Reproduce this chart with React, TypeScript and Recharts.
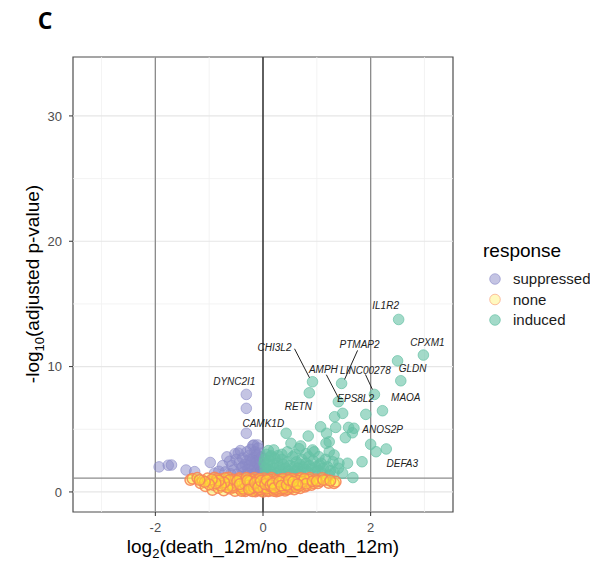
import React from 'react';
import { ScatterChart, Scatter, XAxis, YAxis, ReferenceLine, ReferenceArea } from 'recharts';

const X_DOMAIN: [number, number] = [-3.53, 3.53];
const Y_DOMAIN: [number, number] = [-1.6, 34.7];
const X_TICKS = [-2, 0, 2];
const Y_TICKS = [0, 10, 20, 30];
const X_MINOR = [-3, -1, 1, 3];
const Y_MINOR = [5, 15, 25];
const FC_CUTOFFS = [-2, 2];
const P_CUTOFF = 1.1;

const RESPONSES = ['suppressed', 'none', 'induced'];

// labelled genes: [gene, log2FC, -log10 padj, response]
const LABELED: [string, number, number, string][] = [
    ['IL1R2', 2.52, 13.76, 'induced'],
    ['CPXM1', 2.98, 10.92, 'induced'],
    ['GLDN', 2.5, 10.46, 'induced'],
    ['MAOA', 2.56, 8.87, 'induced'],
    ['LINC00278', 2.07, 7.78, 'induced'],
    ['PTMAP2', 1.46, 8.66, 'induced'],
    ['CHI3L2', 0.92, 8.79, 'induced'],
    ['RETN', 0.86, 7.91, 'induced'],
    ['AMPH', 1.4, 7.2, 'induced'],
    ['EPS8L2', 1.48, 6.27, 'induced'],
    ['ANOS2P', 2.0, 3.8, 'induced'],
    ['DEFA3', 2.29, 3.43, 'induced'],
    ['DYNC2I1', -0.31, 7.78, 'suppressed'],
    ['CAMK1D', -0.31, 4.68, 'suppressed'],
];

const SUPPRESSED: [number, number][] = [
    [-1.93, 2.0], [-1.76, 2.13], [-1.7, 2.15], [-1.43, 1.75], [-1.27, 1.62], [-0.98, 2.35],
    [-0.9, 1.5], [-0.82, 1.65], [-0.75, 2.1], [-0.7, 1.6], [-0.67, 2.8], [-0.62, 2.45],
    [-0.6, 1.45], [-0.58, 2.1], [-0.55, 1.75], [-0.52, 3.05], [-0.5, 2.6], [-0.48, 1.4],
    [-0.46, 3.1], [-0.44, 2.3], [-0.42, 3.3], [-0.4, 1.9], [-0.38, 2.7], [-0.35, 1.6],
    [-0.33, 2.2], [-0.31, 6.67], [-0.3, 3.2], [-0.3, 2.5], [-0.28, 1.8], [-0.26, 2.9],
    [-0.25, 2.1], [-0.23, 3.4], [-0.22, 2.4], [-0.2, 1.7], [-0.19, 3.7], [-0.18, 2.7],
    [-0.17, 3.75], [-0.16, 2.0], [-0.15, 3.2], [-0.14, 2.5], [-0.13, 1.6], [-0.12, 3.0],
    [-0.11, 2.9], [-0.1, 3.75], [-0.1, 2.2], [-0.09, 3.5], [-0.08, 1.9], [-0.07, 2.6],
    [-0.06, 3.1], [-0.05, 2.3], [-0.04, 1.7], [-0.03, 2.8], [-0.02, 2.0], [-0.02, 1.5],
    [-0.08, 1.4], [-0.18, 1.45], [-0.28, 1.5], [-0.38, 2.0], [-0.24, 2.6], [-0.12, 2.35],
];

const INDUCED: [number, number][] = [
    [2.22, 6.48], [1.91, 6.19], [1.33, 6.0], [1.07, 5.2], [1.35, 5.15], [1.59, 5.15],
    [1.69, 5.08], [1.66, 4.72], [1.53, 4.33], [1.18, 4.68], [0.84, 4.46], [0.43, 4.68],
    [0.52, 3.88], [0.7, 3.67], [0.92, 3.35], [1.17, 3.88], [1.23, 3.21], [1.32, 2.95],
    [2.1, 3.21], [1.84, 2.41], [1.57, 2.29], [1.41, 2.29], [1.4, 1.89], [1.32, 1.54],
    [1.48, 1.49], [1.67, 1.15], [1.05, 2.15], [0.97, 1.62], [0.2, 3.35], [0.14, 2.81],
    [1.04, 2.81], [1.23, 4.0], [0.95, 3.2], [0.67, 3.45], [0.8, 3.05], [1.1, 1.49],
    [1.23, 1.35], [0.05, 1.5], [0.08, 2.1], [0.1, 1.8], [0.12, 2.5], [0.15, 1.6],
    [0.18, 2.2], [0.2, 1.9], [0.22, 2.7], [0.25, 1.5], [0.27, 2.3], [0.3, 2.0],
    [0.32, 1.7], [0.35, 2.6], [0.38, 2.2], [0.4, 1.6], [0.42, 1.9], [0.45, 2.4],
    [0.48, 1.7], [0.5, 2.1], [0.53, 1.5], [0.55, 2.8], [0.58, 2.0], [0.6, 1.7],
    [0.62, 2.4], [0.65, 1.9], [0.68, 2.2], [0.7, 1.6], [0.72, 2.6], [0.75, 2.0],
    [0.78, 1.8], [0.8, 2.3], [0.83, 1.6], [0.86, 2.1], [0.9, 1.9], [0.93, 2.5],
    [0.98, 2.0], [1.02, 1.7], [1.08, 2.3], [1.12, 1.9], [1.16, 2.6], [1.2, 2.0],
    [1.25, 1.7], [1.3, 2.4], [0.03, 2.6], [0.06, 3.0], [0.1, 3.3], [0.35, 3.0],
    [0.45, 3.2], [0.6, 3.0], [0.85, 2.8], [0.28, 2.9], [0.15, 2.9], [0.04, 1.9],
    [0.02, 2.3], [0.07, 1.4], [0.17, 1.4], [0.33, 1.4], [0.5, 1.35], [0.66, 1.4],
];

const NONE: [number, number][] = [
    [-1.35, 0.96], [-1.31, 1.05], [-1.22, 1.12], [-1.16, 0.69], [-1.12, 0.9], [-1.07, 0.45],
    [-1.03, 1.08], [-0.98, 0.78], [-0.94, 0.16], [-0.92, 0.55], [-0.9, 1.15], [-0.86, 0.95],
    [-0.83, 0.32], [-0.8, 0.7], [-0.76, 1.02], [-0.73, 0.12], [-0.7, 0.48], [-0.67, 0.86],
    [-0.64, 1.14], [-0.61, 0.25], [-0.58, 0.62], [-0.55, 0.98], [-0.52, 0.08], [-0.5, 0.4],
    [-0.47, 0.75], [-0.44, 1.1], [-0.41, 0.2], [-0.38, 0.55], [-0.36, 0.9], [-0.33, 0.05],
    [-0.3, 0.33], [-0.28, 0.68], [-0.26, 1.05], [-0.23, 0.15], [-0.21, 0.47], [-0.19, 0.82],
    [-0.16, 1.13], [-0.14, 0.03], [-0.12, 0.28], [-0.1, 0.6], [-0.08, 0.95], [-0.05, 0.12],
    [-0.03, 0.42], [-0.01, 0.76], [0.0, 0.02], [0.02, 1.08], [0.04, 0.22], [0.06, 0.55],
    [0.08, 0.88], [0.1, 0.06], [0.12, 0.35], [0.14, 0.7], [0.16, 1.12], [0.18, 0.15],
    [0.2, 0.48], [0.22, 0.83], [0.25, 0.04], [0.27, 0.3], [0.29, 0.62], [0.31, 0.98],
    [0.34, 0.18], [0.36, 0.52], [0.38, 0.85], [0.41, 0.1], [0.43, 0.4], [0.45, 0.72],
    [0.47, 1.1], [0.5, 0.26], [0.52, 0.58], [0.55, 0.92], [0.58, 0.2], [0.6, 0.45],
    [0.63, 0.78], [0.66, 1.05], [0.69, 0.3], [0.72, 0.62], [0.75, 0.95], [0.78, 0.42],
    [0.81, 0.52], [0.84, 0.85], [0.87, 1.12], [0.9, 0.55], [0.94, 0.7], [0.98, 1.0],
    [1.02, 0.7], [1.06, 0.85], [1.1, 1.1], [1.17, 0.96], [1.22, 0.72], [1.32, 0.69],
    [1.35, 0.82], [-0.45, 0.3], [-0.35, 0.15], [-0.25, 0.38], [-0.15, 0.5], [-0.05, 0.3],
    [0.05, 0.4], [0.15, 0.25], [0.25, 0.58], [0.35, 0.35], [0.45, 0.2], [-0.6, 0.8],
    [-0.4, 0.95], [-0.2, 1.0], [0.0, 0.9], [0.2, 1.0], [0.4, 0.92], [0.6, 0.98],
    [-0.7, 1.1], [0.7, 1.1], [-0.1, 0.15], [0.09, 0.1], [-0.2, 0.05], [0.2, 0.08],
    [0.3, 0.1], [-0.4, 0.08], [-0.65, 0.6], [-0.48, 0.6], [-0.32, 0.8], [-0.12, 0.75],
    [0.05, 0.65], [0.24, 0.75], [0.4, 0.65], [0.55, 0.7], [-0.85, 1.05], [0.85, 0.98],
    [-0.55, 0.35], [-0.5, 0.72], [-0.45, 1.0], [-0.42, 0.45], [-0.37, 0.25], [-0.34, 0.65],
    [-0.31, 1.12], [-0.27, 0.52], [-0.24, 0.85], [-0.22, 0.25], [-0.18, 0.62], [-0.17, 0.35],
    [-0.13, 0.9], [-0.11, 0.45], [-0.07, 0.7], [-0.06, 1.05], [-0.04, 0.2], [-0.02, 0.55],
    [0.01, 0.32], [0.03, 0.8], [0.07, 0.25], [0.09, 0.6], [0.11, 1.0], [0.13, 0.45],
    [0.17, 0.8], [0.19, 0.35], [0.23, 0.2], [0.26, 0.9], [0.28, 0.45], [0.32, 0.7],
    [0.33, 0.25], [0.37, 1.05], [0.39, 0.3], [0.42, 0.8], [0.46, 0.5], [0.49, 0.85],
    [0.51, 0.4], [0.54, 1.05], [0.57, 0.6], [0.62, 0.35], [0.65, 0.88], [0.68, 0.5],
    [0.73, 0.8], [0.77, 1.05], [0.8, 0.65], [-0.57, 0.5], [-0.62, 0.95], [-0.66, 0.35],
    [-0.72, 0.75], [-0.78, 0.5], [-0.82, 0.9], [-0.88, 0.7], [-0.95, 1.0], [-1.0, 0.6],
    [-1.08, 0.8], [-1.18, 0.95], [0.92, 0.85], [1.0, 0.88], [1.12, 0.95], [1.25, 0.9],
    [-0.48, 0.88], [-0.43, 0.62], [-0.29, 0.92], [-0.26, 0.2], [-0.15, 0.72], [-0.09, 0.38],
    [-0.04, 0.88], [0.04, 0.62], [0.07, 0.95], [0.14, 0.55], [0.18, 0.68], [0.21, 0.32],
    [0.3, 0.82], [0.34, 0.5], [0.44, 0.55], [0.48, 0.95], [0.56, 0.82], [0.64, 0.6],
];

// where each gene label sits relative to its point (px), plus optional leader segment
const LABEL_LAYOUT: Record<string, { dx: number; dy: number; seg?: [number, number, number, number] }> = {
    IL1R2: { dx: -13, dy: -14 },
    CPXM1: { dx: 4, dy: -13 },
    GLDN: { dx: 15, dy: 8 },
    MAOA: { dx: 5, dy: 17 },
    LINC00278: { dx: -9, dy: -24, seg: [-9, -20, -2, -5] },
    PTMAP2: { dx: 18, dy: -39, seg: [16, -33, 3, -4] },
    CHI3L2: { dx: -38, dy: -34, seg: [-18, -33, -3, -4] },
    RETN: { dx: -11, dy: 14 },
    AMPH: { dx: -15, dy: -32, seg: [-12, -27, 0, -4] },
    EPS8L2: { dx: 13, dy: -15 },
    ANOS2P: { dx: 12, dy: -15 },
    DEFA3: { dx: 16, dy: 14 },
    DYNC2I1: { dx: -12, dy: -13 },
    CAMK1D: { dx: 17, dy: -10 },
};

const COLORS: Record<string, { fill: string; stroke: string; fo: number; so: number; sw: number }> = {
    suppressed: { fill: '#8A8AC8', stroke: '#8A8AC8', fo: 0.5, so: 0.6, sw: 1 },
    none: { fill: '#FFEA2E', stroke: '#F7845A', fo: 0.4, so: 0.9, sw: 1.5 },
    induced: { fill: '#66C2A5', stroke: '#66C2A5', fo: 0.6, so: 0.7, sw: 1 },
};

const FONT = '"Liberation Sans", Arial, sans-serif';

const toData = (pts: [number, number][], response: string) => [
    ...pts.map(([x, y]) => ({ x, y })),
    ...LABELED.filter((g) => g[3] === response).map(([gene, x, y]) => ({ x, y, gene })),
];

const dot = (response: string) => (props: any) => {
    const c = COLORS[response];
    return (
        <circle
            cx={props.cx}
            cy={props.cy}
            r={5.3}
            fill={c.fill}
            fillOpacity={c.fo}
            stroke={c.stroke}
            strokeOpacity={c.so}
            strokeWidth={c.sw}
        />
    );
};

const geneLabel = (props: any) => {
    const { cx, cy, payload } = props;
    const lay = LABEL_LAYOUT[payload.gene];
    if (!lay) return <g />;
    return (
        <g>
            {lay.seg && (
                <line
                    x1={cx + lay.seg[0]}
                    y1={cy + lay.seg[1]}
                    x2={cx + lay.seg[2]}
                    y2={cy + lay.seg[3]}
                    stroke="#222"
                    strokeWidth={1}
                />
            )}
            <text
                x={cx + lay.dx}
                y={cy + lay.dy + 3.6}
                textAnchor="middle"
                fontSize={10}
                fontStyle="italic"
                fontFamily={FONT}
                fill="#222"
            >
                {payload.gene}
            </text>
        </g>
    );
};

export default function App() {
    const labelData = LABELED.map(([gene, x, y]) => ({ x, y, gene }));

    return (
        <div style={{ position: 'relative', width: 598, height: 571, margin: -8, background: '#fff' }}>
            <ScatterChart
                width={598}
                height={571}
                margin={{ top: 57, right: 145, bottom: 0, left: 0 }}
                style={{ fontFamily: FONT }}
            >
                <XAxis
                    type="number"
                    dataKey="x"
                    domain={X_DOMAIN}
                    ticks={X_TICKS}
                    allowDataOverflow
                    height={59}
                    axisLine={false}
                    tickSize={4}
                    tickMargin={7}
                    tickLine={{ stroke: '#333' }}
                    tick={{ fontSize: 13, fill: '#4D4D4D' }}
                />
                <YAxis
                    type="number"
                    dataKey="y"
                    domain={Y_DOMAIN}
                    ticks={Y_TICKS}
                    allowDataOverflow
                    width={73}
                    axisLine={false}
                    tickSize={4}
                    tickMargin={7}
                    tickLine={{ stroke: '#333' }}
                    tick={{ fontSize: 13, fill: '#4D4D4D' }}
                />
                {Y_MINOR.map((v) => (
                    <ReferenceLine key={`ym${v}`} y={v} stroke="#F0F0F0" strokeWidth={0.8} />
                ))}
                {X_MINOR.map((v) => (
                    <ReferenceLine key={`xm${v}`} x={v} stroke="#F0F0F0" strokeWidth={0.8} />
                ))}
                {Y_TICKS.map((v) => (
                    <ReferenceLine key={`yM${v}`} y={v} stroke="#E6E6E6" strokeWidth={1.2} />
                ))}
                {X_TICKS.map((v) => (
                    <ReferenceLine key={`xM${v}`} x={v} stroke="#E6E6E6" strokeWidth={1.2} />
                ))}
                {FC_CUTOFFS.map((v) => (
                    <ReferenceLine key={`fc${v}`} x={v} stroke="#8C8C8C" strokeWidth={1.3} />
                ))}
                <ReferenceLine x={0} stroke="#111" strokeWidth={1.3} />
                <ReferenceLine y={P_CUTOFF} stroke="#8C8C8C" strokeWidth={1.1} />
                <Scatter data={toData(SUPPRESSED, 'suppressed')} shape={dot('suppressed')} isAnimationActive={false} />
                <Scatter data={toData(INDUCED, 'induced')} shape={dot('induced')} isAnimationActive={false} />
                <Scatter data={toData(NONE, 'none')} shape={dot('none')} isAnimationActive={false} />
                <Scatter data={labelData} shape={geneLabel} isAnimationActive={false} />
                <ReferenceArea
                    x1={X_DOMAIN[0]}
                    x2={X_DOMAIN[1]}
                    y1={Y_DOMAIN[0]}
                    y2={Y_DOMAIN[1]}
                    fill="none"
                    fillOpacity={0}
                    stroke="#4D4D4D"
                    strokeWidth={1.2}
                />
            </ScatterChart>
            <svg
                width={598}
                height={571}
                style={{ position: 'absolute', left: 0, top: 0, pointerEvents: 'none' }}
                fontFamily={FONT}
            >
                <text x={45} y={29} textAnchor="middle" fontSize={23} fontWeight="bold" fontFamily='"Open Sans", sans-serif'>
                    C
                </text>
                <text x={263} y={553} textAnchor="middle" fontSize={19} fill="#000">
                    log<tspan fontSize={13} dy={5}>2</tspan>
                    <tspan dy={-5}>(death_12m/no_death_12m)</tspan>
                </text>
                <text
                    transform="translate(39,284) rotate(-90)"
                    textAnchor="middle"
                    fontSize={19}
                    fill="#000"
                >
                    -log<tspan fontSize={13} dy={5}>10</tspan>
                    <tspan dy={-5}>(adjusted p-value)</tspan>
                </text>
                <text x={483} y={257} fontSize={19} fill="#000">
                    response
                </text>
                {RESPONSES.map((r, i) => {
                    const c = COLORS[r];
                    return (
                        <g key={r}>
                            <circle
                                cx={495}
                                cy={279 + i * 20.5}
                                r={5.3}
                                fill={c.fill}
                                fillOpacity={r === 'none' ? 0.3 : c.fo}
                                stroke={c.stroke}
                                strokeOpacity={r === 'none' ? 0.5 : c.so}
                                strokeWidth={1}
                            />
                            <text x={513} y={284 + i * 20.5} fontSize={15} fill="#1A1A1A">
                                {r}
                            </text>
                        </g>
                    );
                })}
            </svg>
        </div>
    );
}
